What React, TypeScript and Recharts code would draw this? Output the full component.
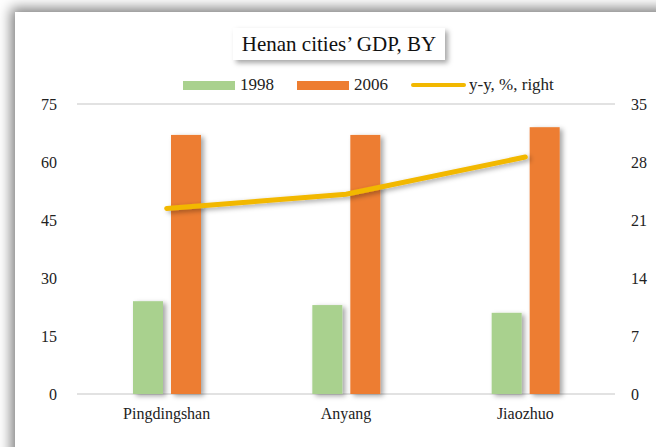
import { Bar, CartesianGrid, ComposedChart, Line, XAxis, YAxis } from "recharts";

const cities = ["Pingdingshan", "Anyang", "Jiaozhuo"];
const gdp1998 = [24, 23, 21];
const gdp2006 = [67, 67, 69];
const growthYY = [22.4, 24.1, 28.6];
const leftTicks = [0, 15, 30, 45, 60, 75];
const rightTicks = [0, 7, 14, 21, 28, 35];

const data = cities.map((city, i) => ({
  city,
  y1998: gdp1998[i],
  y2006: gdp2006[i],
  yy: growthYY[i],
}));

const font = '"Liberation Serif", "Times New Roman", serif';

const ShadowBar = (props: any) => {
  const { x, y, width, height, fill } = props;
  if (!height || height <= 0) return null;
  return <rect x={x} y={y} width={width} height={height} fill={fill} filter="url(#barShadow)" />;
};

const legendItems = [
  { label: "1998", color: "#A9D18E", kind: "bar" },
  { label: "2006", color: "#ED7D31", kind: "bar" },
  { label: "y-y, %, right", color: "#F2B800", kind: "line" },
];

function LegendRow() {
  return (
    <div style={{ display: "flex", alignItems: "center", fontFamily: font, fontSize: 17, color: "#222", height: 20 }}>
      {legendItems.map((it) => (
        <div key={it.label} style={{ display: "flex", alignItems: "center", marginRight: 23 }}>
          {it.kind === "bar" ? (
            <div style={{ width: 52, height: 9, background: it.color, marginRight: 5 }} />
          ) : (
            <div style={{ width: 55, height: 4, borderRadius: 2, background: it.color, marginRight: 3 }} />
          )}
          <span>{it.label}</span>
        </div>
      ))}
    </div>
  );
}

export default function App() {
  return (
    <div style={{ position: "absolute", left: 0, top: 0, width: 656, height: 447, overflow: "hidden", background: "#fff" }}>
      <div
        style={{
          position: "absolute",
          left: 15,
          top: 12,
          width: 720,
          height: 520,
          background: "#fff",
          boxShadow: "0 0 12px 4px rgba(0,0,0,0.5)",
        }}
      />
      <div
        style={{
          position: "absolute",
          left: 233,
          top: 28,
          width: 212,
          height: 32,
          background: "#fff",
          boxShadow: "3px 3px 5px rgba(0,0,0,0.35)",
          fontFamily: font,
          fontSize: 21,
          color: "#111",
          display: "flex",
          alignItems: "center",
          justifyContent: "center",
        }}
      >
        Henan cities’ GDP, BY
      </div>
      <div style={{ position: "absolute", left: 183, top: 75 }}>
        <LegendRow />
      </div>
      <div style={{ position: "absolute", left: 0, top: 0 }}>
        <ComposedChart
          width={656}
          height={447}
          data={data}
          margin={{ top: 104, right: 0, bottom: 23, left: 0 }}
          barGap={8}
        >
          <defs>
            <filter id="barShadow" x="-30%" y="-10%" width="170%" height="130%">
              <feDropShadow dx="3" dy="2" stdDeviation="2.5" floodColor="#000" floodOpacity="0.35" />
            </filter>
          </defs>
          <CartesianGrid vertical={false} stroke="#d9d9d9" strokeWidth={1.5} />
          <XAxis
            dataKey="city"
            axisLine={false}
            tickLine={false}
            height={30}
            tickMargin={8}
            tick={{ fontFamily: font, fontSize: 16, fill: "#222" }}
          />
          <YAxis
            yAxisId="left"
            domain={[0, 75]}
            ticks={leftTicks}
            axisLine={false}
            tickLine={false}
            tickSize={0}
            tickMargin={20}
            width={77}
            tick={{ fontFamily: font, fontSize: 16, fill: "#222" }}
          />
          <YAxis
            yAxisId="right"
            orientation="right"
            domain={[0, 35]}
            ticks={rightTicks}
            axisLine={false}
            tickLine={false}
            tickSize={0}
            tickMargin={16}
            width={41}
            tick={{ fontFamily: font, fontSize: 16, fill: "#222" }}
          />
          <Bar yAxisId="left" dataKey="y1998" fill="#A9D18E" barSize={30} shape={ShadowBar} isAnimationActive={false} />
          <Bar yAxisId="left" dataKey="y2006" fill="#ED7D31" barSize={30} shape={ShadowBar} isAnimationActive={false} />
          <Line
            yAxisId="right"
            dataKey="yy"
            type="linear"
            stroke="#F2B800"
            strokeWidth={5}
            strokeLinecap="round"
            dot={false}
            activeDot={false}
            filter="url(#barShadow)"
            isAnimationActive={false}
          />
        </ComposedChart>
      </div>
    </div>
  );
}
